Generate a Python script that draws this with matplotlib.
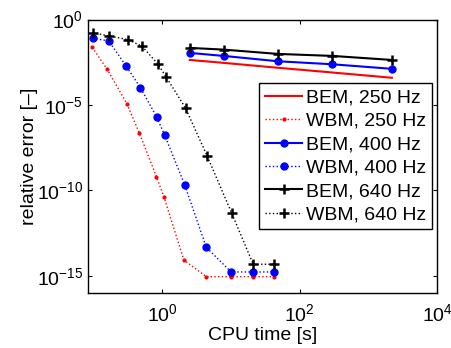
import matplotlib
matplotlib.use("Agg")
import matplotlib.pyplot as plt

plt.rcParams['font.family'] = ['Liberation Sans', 'DejaVu Sans']
plt.rcParams['mathtext.default'] = 'regular'

# BEM (solid lines)
bem_t = [2.5, 7.8, 48, 300, 2200]
bem_250 = [0.0043, 0.0029, 0.0015, 0.00079, 0.00039]
bem_400 = [0.0111, 0.0074, 0.0036, 0.0024, 0.0013]
bem_640 = [0.0218, 0.0173, 0.0097, 0.0074, 0.0043]

# WBM (dotted lines)
wbm_250_t = [0.095, 0.157, 0.302, 0.462, 0.817, 1.05, 2.05, 4.35, 10, 21, 42]
wbm_250 = [0.0235, 1.2e-3, 1.2e-5, 2.2e-7, 6.4e-10, 4.2e-11, 8.5e-15, 9e-16, 9e-16, 9e-16, 9e-16]
wbm_400_t = [0.096, 0.165, 0.298, 0.477, 0.828, 1.08, 2.10, 4.35, 10, 21, 42]
wbm_400 = [0.079, 0.056, 1.8e-3, 1.04e-4, 1.9e-6, 1.66e-7, 2.2e-10, 4.7e-14, 1.7e-15, 1.7e-15, 1.7e-15]
wbm_640_t = [0.096, 0.168, 0.316, 0.506, 0.857, 1.13, 2.17, 4.45, 10.2, 21, 42]
wbm_640 = [0.17, 0.109, 0.066, 0.027, 2.5e-3, 4.4e-4, 6.5e-6, 1.1e-8, 4.7e-12, 4.8e-15, 4.8e-15]

fig = plt.figure(figsize=(4.52, 3.48), dpi=100)
ax = fig.add_axes([88/452, 55/348, 349/452, 273.5/348])

ax.loglog(bem_t, bem_250, '-', color='red', lw=1.5, label='BEM, 250 Hz')
ax.loglog(wbm_250_t, wbm_250, ':', color='red', lw=1, marker='.', ms=4, label='WBM, 250 Hz')
ax.loglog(bem_t, bem_400, '-', color='blue', lw=1.5, marker='o', ms=5, label='BEM, 400 Hz')
ax.loglog(wbm_400_t, wbm_400, ':', color='blue', lw=1, marker='o', ms=5, label='WBM, 400 Hz')
ax.loglog(bem_t, bem_640, '-', color='black', lw=1.5, marker='+', ms=7, mew=1.8, label='BEM, 640 Hz')
ax.loglog(wbm_640_t, wbm_640, ':', color='black', lw=1, marker='+', ms=7, mew=1.8, label='WBM, 640 Hz')

ax.set_xlim(10**-1.085, 1e4)
ax.set_ylim(1e-16, 1)
ax.set_xticks([1, 1e2, 1e4])
ax.set_yticks([1e-15, 1e-10, 1e-5, 1])
ax.minorticks_off()
ax.tick_params(direction='in', top=True, right=True, length=3, labelsize=14)
ax.tick_params(axis='x', pad=7)
for s in ax.spines.values():
    s.set_linewidth(1)

ax.set_xlabel('CPU time [s]', fontsize=14, labelpad=2)
ax.set_ylabel('relative error [\u2013]', fontsize=14, labelpad=-1)

leg = ax.legend(loc='center right', fontsize=14, handlelength=1.9, fancybox=False,
                framealpha=1, edgecolor='black', borderpad=0.3, labelspacing=0.3,
                handletextpad=0.2, borderaxespad=0.25)
leg.get_frame().set_linewidth(1)

fig.savefig('out.png', dpi=100)
